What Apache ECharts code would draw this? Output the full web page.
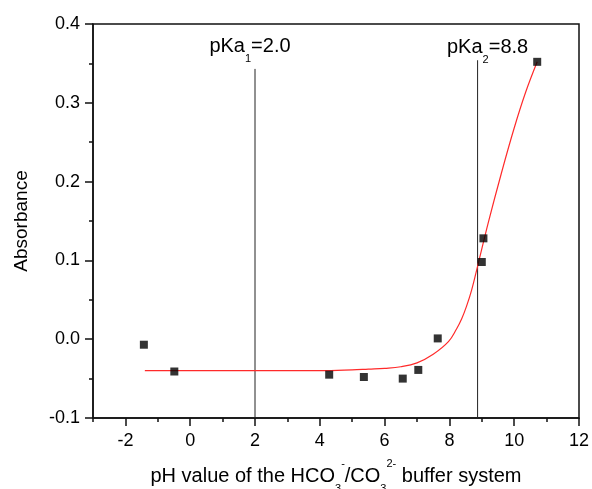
<!DOCTYPE html>
<html><head><meta charset="utf-8">
<script src="https://cdn.jsdelivr.net/npm/echarts@6/dist/echarts.min.js"></script>
<style>html,body{margin:0;padding:0;background:#fff}#c{width:592px;height:489px}</style>
</head><body><div id="c"></div>
<script>
// measured data points (pH, absorbance)
const pointX = [-1.43, -0.49, 4.29, 5.36, 6.56, 7.04, 7.64, 9.00, 9.05, 10.71];
const pointY = [-0.007, -0.041, -0.045, -0.048, -0.050, -0.039, 0.001, 0.098, 0.128, 0.352];
// fitted sigmoid curve
const fitX = [-1.40, 0, 2, 4, 5, 5.5, 6, 6.5, 7, 7.5, 7.97, 8.22, 8.38, 8.53, 8.69, 8.89, 9.2, 9.6, 10.0, 10.35, 10.71];
const fitY = [-0.040, -0.040, -0.040, -0.040, -0.039, -0.038, -0.037, -0.035, -0.030, -0.019, -0.003, 0.013, 0.026, 0.042, 0.063, 0.096, 0.148, 0.210, 0.268, 0.313, 0.352];
// pKa marker lines
const pKaIndex = ['1', '2'];
const pKaText = ['2.0', '8.8'];
const pKaLineX = [2.0, 8.87];
const pKaLineTop = [0.343, 0.354];
// axis ticks
const xMajorTicks = [-2, 0, 2, 4, 6, 8, 10, 12];
const xMinorTicks = [-3, -1, 1, 3, 5, 7, 9, 11];
const yMin = -0.1, yMax = 0.4, yStep = 0.1;
const xMin = -3, xMax = 12;

const FONT = "'Liberation Sans', Arial, sans-serif";
const AX = '#111';
const rich = {
  a: {fontSize: 20, fontFamily: FONT, color: '#000', lineHeight: 36, verticalAlign: 'middle'},
  sub: {fontSize: 11, fontFamily: FONT, color: '#000', lineHeight: 11, verticalAlign: 'bottom'},
  sup: {fontSize: 11, fontFamily: FONT, color: '#000', lineHeight: 30, verticalAlign: 'top'}
};

const chart = echarts.init(document.getElementById('c'), null, {renderer: 'canvas'});
const pKaOffsets = [[-5, -4], [10, 5]];
const pKaSeries = pKaLineX.map((x, i) => ({
  type: 'line',
  data: [[x, yMin], {value: [x, pKaLineTop[i]], label: {
    show: true, position: 'top', distance: 0,
    offset: pKaOffsets[i],
    formatter: '{a|pKa}{sub|' + pKaIndex[i] + '}{a|=' + pKaText[i] + '}', rich: rich
  }}],
  symbol: 'circle', symbolSize: 0, showSymbol: true,
  lineStyle: {color: '#222', width: 1},
  itemStyle: {color: '#222'},
  silent: true, z: 2
}));

chart.setOption({
  animation: false,
  backgroundColor: '#fff',
  grid: {left: 93, right: 13, top: 24, bottom: 71, containLabel: false, outerBoundsMode: 'none',
    show: true, borderColor: AX, borderWidth: 1.5, backgroundColor: 'transparent'},
  xAxis: [{
    type: 'value', min: xMin, max: xMax, position: 'bottom',
    axisLine: {show: true, onZero: false, lineStyle: {color: AX, width: 1.5}},
    axisTick: {show: true, inside: false, length: 8, customValues: xMajorTicks, lineStyle: {color: AX, width: 1.5}},
    axisLabel: {show: true, customValues: xMajorTicks, margin: 14, fontSize: 18, fontFamily: FONT, color: '#000'},
    splitLine: {show: false},
    name: '{a|pH value of the HCO}{sub|3}{sup|-}{a|/CO}{sub|3}{sup|2-}{a| buffer system}',
    nameLocation: 'middle', nameGap: 40,
    nameTextStyle: {rich: rich}
  }, {
    type: 'value', min: xMin, max: xMax, position: 'bottom',
    axisLine: {show: false, onZero: false},
    axisTick: {show: true, inside: false, length: 4, customValues: xMinorTicks, lineStyle: {color: AX, width: 1.5}},
    axisLabel: {show: false},
    splitLine: {show: false}
  }],
  yAxis: {
    type: 'value', min: yMin, max: yMax, interval: yStep, position: 'left',
    axisLine: {show: true, onZero: false, lineStyle: {color: AX, width: 1.5}},
    axisTick: {show: true, inside: false, length: 8, lineStyle: {color: AX, width: 1.5}},
    minorTick: {show: true, splitNumber: 2, length: 4, lineStyle: {color: AX, width: 1.5}},
    axisLabel: {margin: 13, fontSize: 18, fontFamily: FONT, color: '#000',
      formatter: v => (Math.abs(v) < 1e-9 ? 0 : v).toFixed(1)},
    splitLine: {show: false},
    name: 'Absorbance', nameLocation: 'middle', nameGap: 62,
    nameTextStyle: {fontSize: 19, fontFamily: FONT, color: '#000'}
  },
  series: [
    ...pKaSeries,
    {
      type: 'line', data: fitX.map((x, i) => [x, fitY[i]]),
      smooth: 0.4, symbol: 'none',
      lineStyle: {color: '#ff2a2a', width: 1.2}, silent: true, z: 3
    },
    {
      type: 'scatter', data: pointX.map((x, i) => [x, pointY[i]]),
      symbol: 'rect', symbolSize: 8, itemStyle: {color: '#000'}, z: 4
    }
  ]
});
</script></body></html>
